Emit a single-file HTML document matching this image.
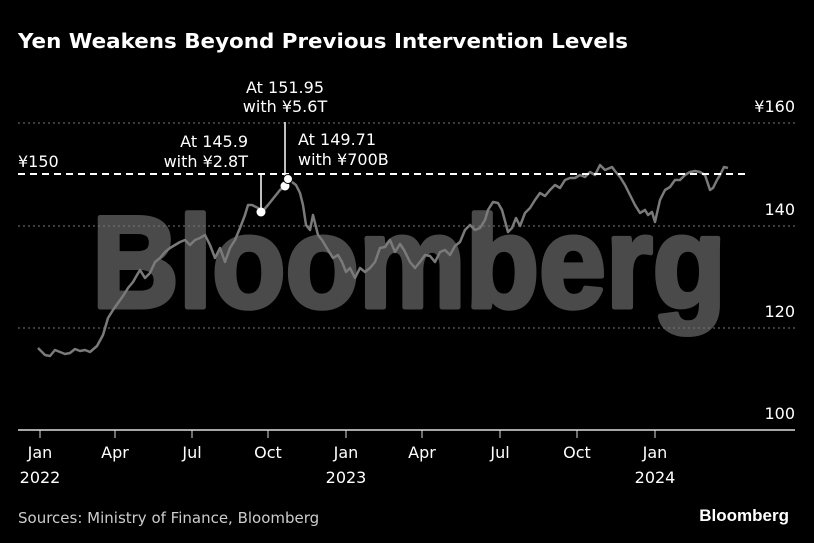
<!DOCTYPE html>
<html><head><meta charset="utf-8"><style>
html,body{margin:0;padding:0;background:#000;width:814px;height:543px;overflow:hidden}
svg{display:block}
text{font-family:"DejaVu Sans","Liberation Sans",sans-serif;fill:#fff}
</style></head><body>
<svg width="814" height="543" viewBox="0 0 814 543">
<rect width="814" height="543" fill="#000"/>
<text x="18" y="48" font-size="20" font-weight="bold" textLength="610" lengthAdjust="spacingAndGlyphs">Yen Weakens Beyond Previous Intervention Levels</text>
<text x="92" y="307" style="font-family:'Liberation Sans',sans-serif;font-weight:bold;font-size:130px;fill:#4a4a4a;stroke:#4a4a4a;stroke-width:5px;stroke-linejoin:round" textLength="634" lengthAdjust="spacingAndGlyphs">Bloomberg</text>
<g stroke="#777" stroke-width="1" stroke-dasharray="2,3">
<line x1="18" y1="123" x2="795" y2="123"/>
<line x1="18" y1="226" x2="795" y2="226"/>
<line x1="18" y1="328" x2="795" y2="328"/>
</g>
<line x1="18" y1="430" x2="795" y2="430" stroke="#ddd" stroke-width="1.5"/>
<g stroke="#ddd" stroke-width="1">
<line x1="40" y1="430" x2="40" y2="438"/><line x1="115" y1="430" x2="115" y2="438"/><line x1="192" y1="430" x2="192" y2="438"/><line x1="268" y1="430" x2="268" y2="438"/><line x1="346" y1="430" x2="346" y2="438"/><line x1="422" y1="430" x2="422" y2="438"/><line x1="500" y1="430" x2="500" y2="438"/><line x1="577" y1="430" x2="577" y2="438"/><line x1="655" y1="430" x2="655" y2="438"/>
</g>
<polyline fill="none" stroke="#7a7a7a" stroke-width="2.5" stroke-linejoin="round" points="38,348 45,355 50,356 55,350 60,352 65,354 70,353 75,349 80,351 85,350 90,352 97,346 103,335 108,318 113,310 118,303 123,296 128,288 133,282 137,275 140,270 145,278 150,273 155,262 160,258 165,252 170,248 175,245 180,242 185,240 190,245 195,240 200,238 205,235 210,245 215,258 220,248 225,262 230,248 235,240 240,228 245,215 248,205 252,205 258,208 262,212 268,205 272,200 276,195 280,190 285,186 288,178 292,182 296,185 300,193 303,205 306,225 310,230 313,215 318,235 322,240 328,250 333,258 338,255 342,262 346,272 350,268 355,278 360,268 365,272 370,268 375,262 380,248 385,247 390,240 395,252 400,244 404,250 410,262 415,268 420,262 425,255 430,256 435,262 440,252 445,250 450,255 455,246 460,242 465,230 470,225 475,230 480,228 485,220 488,210 493,202 498,203 502,210 508,232 512,228 516,218 520,226 525,213 530,208 535,200 540,193 545,196 550,190 555,185 560,188 565,180 570,178 575,178 580,175 585,177 590,172 595,175 600,165 605,170 612,167 615,171 620,177 625,185 630,195 635,205 640,213 645,210 648,215 652,212 655,222 660,200 665,190 670,187 675,180 680,180 685,175 690,172 695,171 700,172 705,175 710,190 713,188 717,180 720,175 724,167 728,168"/>
<line x1="18" y1="174" x2="748" y2="174" stroke="#fff" stroke-width="2" stroke-dasharray="7,5"/>
<line x1="261" y1="175" x2="261" y2="212" stroke="#fff" stroke-width="1.5"/>
<line x1="285" y1="122" x2="285" y2="178" stroke="#fff" stroke-width="1.5"/>
<circle cx="261" cy="212" r="4.5" fill="#fff"/>
<circle cx="285" cy="186" r="4.5" fill="#fff"/>
<circle cx="288" cy="179" r="4.5" fill="#fff" stroke="#000" stroke-width="1"/>
<g font-size="16">
<text x="285" y="93" text-anchor="middle">At 151.95</text>
<text x="285" y="112" text-anchor="middle">with ¥5.6T</text>
<text x="248" y="147" text-anchor="end">At 145.9</text>
<text x="248" y="167" text-anchor="end">with ¥2.8T</text>
<text x="298" y="145">At 149.71</text>
<text x="298" y="165">with ¥700B</text>
<text x="18" y="167">¥150</text>
<text x="795" y="112" text-anchor="end">¥160</text>
<text x="795" y="215" text-anchor="end">140</text>
<text x="795" y="317" text-anchor="end">120</text>
<text x="795" y="419" text-anchor="end">100</text>
<text x="40" y="458" text-anchor="middle">Jan</text>
<text x="40" y="483" text-anchor="middle">2022</text>
<text x="115" y="458" text-anchor="middle">Apr</text>
<text x="192" y="458" text-anchor="middle">Jul</text>
<text x="268" y="458" text-anchor="middle">Oct</text>
<text x="346" y="458" text-anchor="middle">Jan</text>
<text x="346" y="483" text-anchor="middle">2023</text>
<text x="422" y="458" text-anchor="middle">Apr</text>
<text x="500" y="458" text-anchor="middle">Jul</text>
<text x="577" y="458" text-anchor="middle">Oct</text>
<text x="655" y="458" text-anchor="middle">Jan</text>
<text x="655" y="483" text-anchor="middle">2024</text>
<text x="18" y="523" style="fill:#ccc" font-size="15">Sources: Ministry of Finance, Bloomberg</text>
<text x="789" y="521" text-anchor="end" style="font-family:'Liberation Sans',sans-serif;font-weight:bold;font-size:17px">Bloomberg</text>
</g>
</svg>
</body></html>
